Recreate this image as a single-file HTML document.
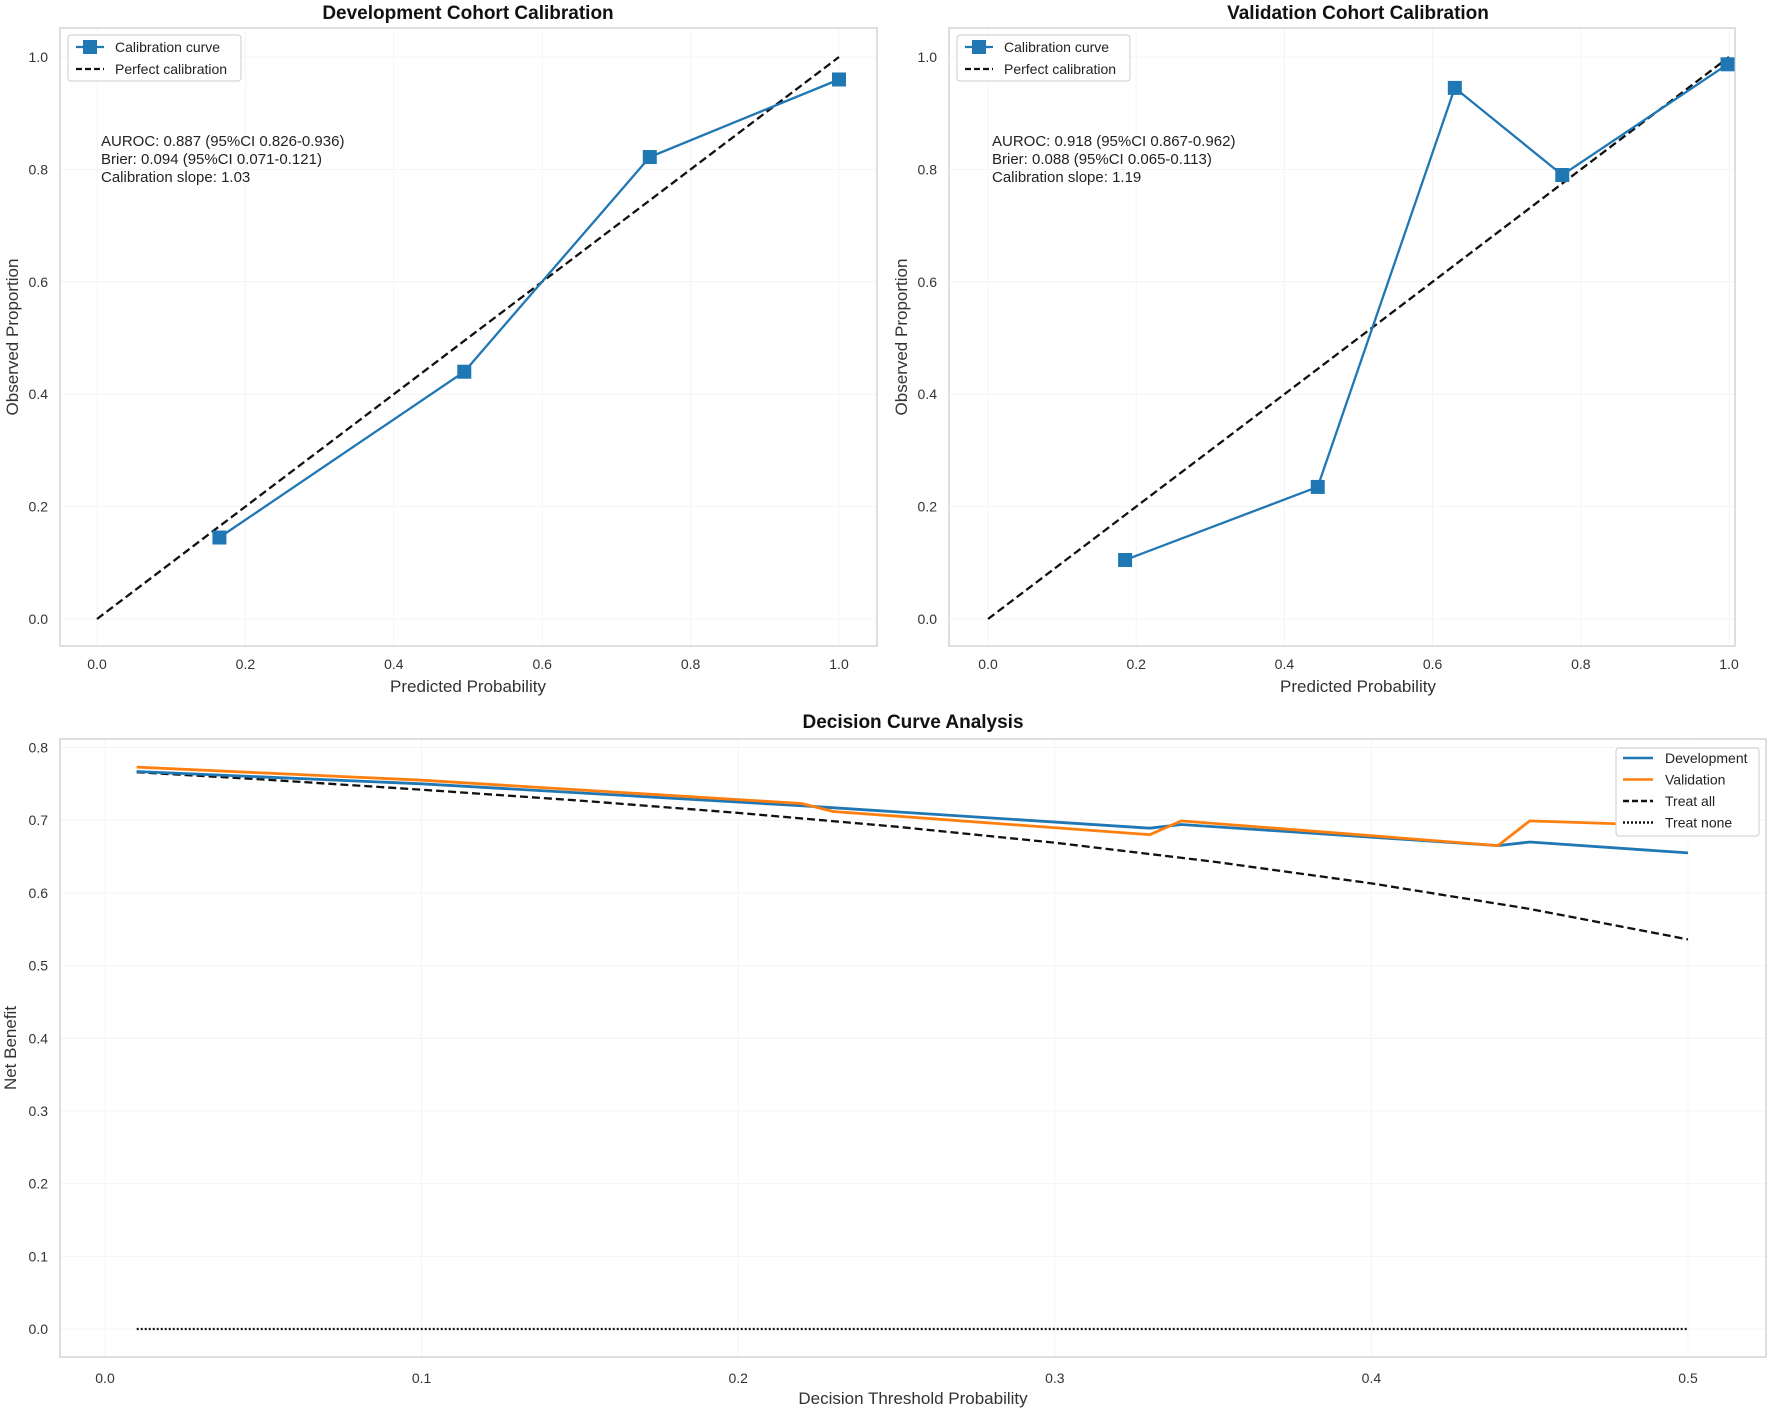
<!DOCTYPE html>
<html><head><meta charset="utf-8"><style>
body{margin:0;background:#fff}
svg{display:block;font-family:"Liberation Sans",sans-serif}
</style></head><body>
<svg id="c" width="1772" height="1410" viewBox="0 0 1772 1410"></svg>
<script>
const devPred=[0.165,0.495,0.745,1.0];
const devObs=[0.145,0.44,0.822,0.96];
const valPred=[0.185,0.445,0.63,0.775,0.998];
const valObs=[0.105,0.235,0.945,0.79,0.987];
const calTicks=[0,0.2,0.4,0.6,0.8,1.0];
const dcaThrDev=[0.01,0.10,0.22,0.33,0.34,0.44,0.45,0.50];
const dcaDev=[0.767,0.750,0.720,0.689,0.694,0.665,0.670,0.655];
const dcaThrVal=[0.01,0.10,0.22,0.23,0.33,0.34,0.44,0.45,0.50];
const dcaVal=[0.773,0.755,0.723,0.712,0.680,0.699,0.665,0.699,0.692];
const allThr=[0.01,0.05,0.10,0.15,0.20,0.25,0.30,0.35,0.40,0.45,0.50];
const treatAll=[0.766,0.756,0.742,0.727,0.710,0.691,0.669,0.643,0.613,0.578,0.536];
const noneThr=[0.01,0.50];
const treatNone=[0,0];
const dcaXTicks=[0,0.1,0.2,0.3,0.4,0.5];
const dcaYTicks=[0,0.1,0.2,0.3,0.4,0.5,0.6,0.7,0.8];

const S=document.getElementById('c');const NS='http://www.w3.org/2000/svg';
function el(t,a,p){const e=document.createElementNS(NS,t);for(const k in a)e.setAttribute(k,a[k]);(p||S).appendChild(e);return e;}
function txt(s,a,p){const e=el('text',a,p);e.textContent=s;return e;}
function lin(d0,d1,r0,r1){return v=>r0+(v-d0)/(d1-d0)*(r1-r0);}
function pts(xs,ys,X,Y){return xs.map((v,i)=>X(v).toFixed(1)+','+Y(ys[i]).toFixed(1)).join(' ');}

function calPanel(name,title,fx0,fx1,x0,x1,pred,obs,ann,tcx){
  const g=el('g',{});
  const fy0=28,fy1=646;const X=lin(0,1,x0,x1),Y=lin(0,1,619,57);
  calTicks.forEach(t=>{
    el('line',{x1:X(t),x2:X(t),y1:fy0,y2:fy1,stroke:'#f4f4f4','stroke-width':1},g);
    el('line',{x1:fx0,x2:fx1,y1:Y(t),y2:Y(t),stroke:'#f4f4f4','stroke-width':1},g);
    const tx=txt(t.toFixed(1),{x:X(t),y:669,'font-size':14,'text-anchor':'middle',fill:'#333'},g);
    
    const ty=txt(t.toFixed(1),{x:fx0-12,y:Y(t)+5,'font-size':14,'text-anchor':'end',fill:'#333'},g);
    
  });
  el('rect',{x:fx0,y:fy0,width:fx1-fx0,height:fy1-fy0,fill:'none',stroke:'#d4d4d4','stroke-width':1.5},g);
  const pl=el('line',{x1:X(0),y1:Y(0),x2:X(1),y2:Y(1),stroke:'#111','stroke-width':2.3,'stroke-dasharray':'8,4'},g);
  
  const cl=el('polyline',{points:pts(pred,obs,X,Y),fill:'none',stroke:'#1f77b4','stroke-width':2.3},g);
  
  pred.forEach((v,i)=>{const m=el('rect',{x:X(v)-7,y:Y(obs[i])-7,width:14,height:14,fill:'#1f77b4'},g);
    });
  const t=txt(title,{x:tcx,y:19,'font-size':19,'font-weight':'bold','text-anchor':'middle',fill:'#111'},g);
  
  const xl=txt('Predicted Probability',{x:tcx,y:692,'font-size':17,'text-anchor':'middle',fill:'#333'},g);
  
  const yl=txt('Observed Proportion',{x:0,y:0,'font-size':17,'text-anchor':'middle',fill:'#333',transform:`translate(${fx0-42},${(fy0+fy1)/2}) rotate(-90)`},g);
  
  ann.forEach((s,i)=>{const a=txt(s,{x:X(0)+4,y:146+i*18,'font-size':15,fill:'#222'},g);
    });
  const lg=el('g',{},g);
  el('rect',{x:fx0+8,y:35,width:173,height:46,fill:'#fff',stroke:'#ccc',rx:3},lg);
  el('line',{x1:fx0+16,x2:fx0+44,y1:47,y2:47,stroke:'#1f77b4','stroke-width':2.3},lg);
  el('rect',{x:fx0+23,y:40,width:14,height:14,fill:'#1f77b4'},lg);
  txt('Calibration curve',{x:fx0+55,y:52,'font-size':14,fill:'#222'},lg);
  el('line',{x1:fx0+16,x2:fx0+44,y1:69,y2:69,stroke:'#111','stroke-width':2.3,'stroke-dasharray':'6,3'},lg);
  txt('Perfect calibration',{x:fx0+55,y:74,'font-size':14,fill:'#222'},lg);
}
calPanel('development-calibration-panel','Development Cohort Calibration',60,877,97,839,devPred,devObs,
 ['AUROC: 0.887 (95%CI 0.826-0.936)','Brier: 0.094 (95%CI 0.071-0.121)','Calibration slope: 1.03'],468);
calPanel('validation-calibration-panel','Validation Cohort Calibration',949,1735,988,1729,valPred,valObs,
 ['AUROC: 0.918 (95%CI 0.867-0.962)','Brier: 0.088 (95%CI 0.065-0.113)','Calibration slope: 1.19'],1358);

(function(){
  const g=el('g',{});
  const fx0=60,fx1=1766,fy0=739,fy1=1357;
  const X=lin(0,0.5,105,1688),Y=lin(0,0.8,1329,747.5);
  dcaXTicks.forEach(t=>{el('line',{x1:X(t),x2:X(t),y1:fy0,y2:fy1,stroke:'#f4f4f4'},g);
    const a=txt(t.toFixed(1),{x:X(t),y:1383,'font-size':14,'text-anchor':'middle',fill:'#333'},g);
    });
  dcaYTicks.forEach(t=>{el('line',{x1:fx0,x2:fx1,y1:Y(t),y2:Y(t),stroke:'#f4f4f4'},g);
    const a=txt(t.toFixed(1),{x:48,y:Y(t)+5,'font-size':14,'text-anchor':'end',fill:'#333'},g);
    });
  el('rect',{x:fx0,y:fy0,width:fx1-fx0,height:fy1-fy0,fill:'none',stroke:'#d4d4d4','stroke-width':1.5},g);
  const ta=el('polyline',{points:pts(allThr,treatAll,X,Y),fill:'none',stroke:'#111','stroke-width':2.3,'stroke-dasharray':'8,4'},g);
  
  const tn=el('polyline',{points:pts(noneThr,treatNone,X,Y),fill:'none',stroke:'#111','stroke-width':2.3,'stroke-dasharray':'2,2'},g);
  
  const d=el('polyline',{points:pts(dcaThrDev,dcaDev,X,Y),fill:'none',stroke:'#1f77b4','stroke-width':2.8},g);
  
  const v=el('polyline',{points:pts(dcaThrVal,dcaVal,X,Y),fill:'none',stroke:'#ff7f0e','stroke-width':2.8},g);
  
  const t=txt('Decision Curve Analysis',{x:913,y:728,'font-size':19,'font-weight':'bold','text-anchor':'middle',fill:'#111'},g);
  
  const xl=txt('Decision Threshold Probability',{x:913,y:1404,'font-size':17,'text-anchor':'middle',fill:'#333'},g);
  
  const yl=txt('Net Benefit',{x:0,y:0,'font-size':17,'text-anchor':'middle',fill:'#333',transform:'translate(16,1048) rotate(-90)'},g);
  
  const lg=el('g',{},g);
  el('rect',{x:1616,y:748,width:143,height:88,fill:'#fff',stroke:'#ccc',rx:3},lg);
  const items=[['Development','#1f77b4',null],['Validation','#ff7f0e',null],['Treat all','#111','6,3'],['Treat none','#111','2,2']];
  items.forEach((it,i)=>{const y=758+i*21.5;
    const a={x1:1623,x2:1653,y1:y,y2:y,stroke:it[1],'stroke-width':2.5};if(it[2])a['stroke-dasharray']=it[2];
    el('line',a,lg);txt(it[0],{x:1665,y:y+5,'font-size':14,fill:'#222'},lg);});
})();
</script>
</body></html>
